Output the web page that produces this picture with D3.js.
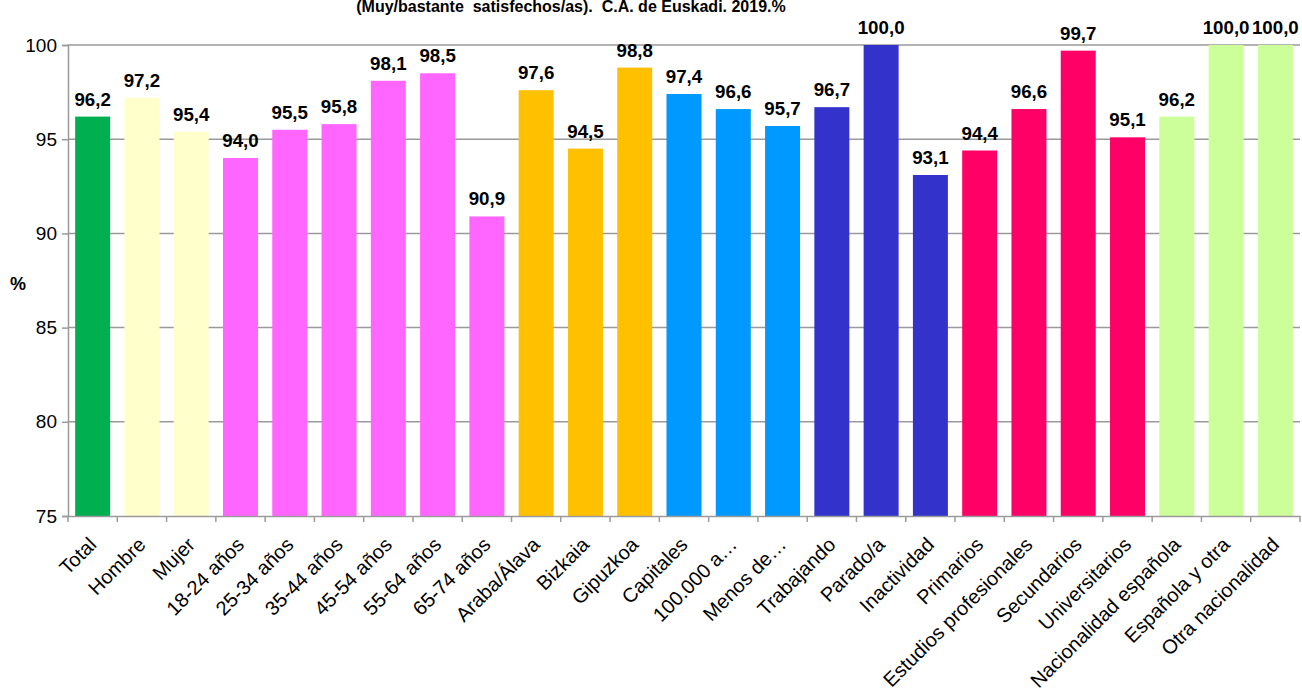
<!DOCTYPE html>
<html>
<head>
<meta charset="utf-8">
<script src="https://cdn.jsdelivr.net/npm/d3@7"></script>
<style>
  body { margin: 0; background: #fff; }
  svg { font-family: "Liberation Sans", Arial, sans-serif; }
</style>
</head>
<body>
<div id="chart"></div>
<script>
const categories = ["Total", "Hombre", "Mujer", "18-24 años", "25-34 años", "35-44 años", "45-54 años",
  "55-64 años", "65-74 años", "Araba/Álava", "Bizkaia", "Gipuzkoa", "Capitales", "100.000 a…",
  "Menos de…", "Trabajando", "Parado/a", "Inactividad", "Primarios", "Estudios profesionales",
  "Secundarios", "Universitarios", "Nacionalidad española", "Española y otra", "Otra nacionalidad"];
const values = [96.2, 97.2, 95.4, 94.0, 95.5, 95.8, 98.1, 98.5, 90.9, 97.6, 94.5, 98.8, 97.4, 96.6,
  95.7, 96.7, 100.0, 93.1, 94.4, 96.6, 99.7, 95.1, 96.2, 100.0, 100.0];
const groups = ["total", "sexo", "sexo", "edad", "edad", "edad", "edad", "edad", "edad",
  "territorio", "territorio", "territorio", "tamano", "tamano", "tamano",
  "actividad", "actividad", "actividad", "estudios", "estudios", "estudios", "estudios",
  "nacionalidad", "nacionalidad", "nacionalidad"];
const groupColors = {
  total: "#00B050", sexo: "#FFFFCC", edad: "#FF66FF", territorio: "#FFC000",
  tamano: "#0099FF", actividad: "#3333CC", estudios: "#FF0066", nacionalidad: "#CCFF99"
};
const yTicks = [75, 80, 85, 90, 95, 100];
const title = "(Muy/bastante  satisfechos/as).  C.A. de Euskadi. 2019.%";

const width = 1302, height = 693;
const margin = { top: 45, right: 2, bottom: 177, left: 68 };

const svg = d3.select("#chart").append("svg")
  .attr("width", width)
  .attr("height", height);

const x = d3.scaleBand()
  .domain(categories)
  .range([margin.left, width - margin.right])
  .paddingInner(0.29)
  .paddingOuter(0.145);

const y = d3.scaleLinear()
  .domain([75, 100])
  .range([height - margin.bottom, margin.top]);

// gridlines
svg.append("g")
  .selectAll("line")
  .data(yTicks.filter(d => d > 75))
  .join("line")
  .attr("x1", margin.left)
  .attr("x2", width - margin.right)
  .attr("y1", d => y(d))
  .attr("y2", d => y(d))
  .attr("stroke", "#9a9a9a")
  .attr("stroke-width", 1.5);

// bars
svg.append("g")
  .selectAll("rect")
  .data(categories)
  .join("rect")
  .attr("x", d => x(d))
  .attr("y", (d, i) => y(values[i]))
  .attr("width", x.bandwidth())
  .attr("height", (d, i) => y(75) - y(values[i]))
  .attr("fill", (d, i) => groupColors[groups[i]]);

// y axis
const yAxis = svg.append("g")
  .attr("transform", `translate(${margin.left},0)`)
  .call(d3.axisLeft(y).tickValues(yTicks).tickSize(6).tickPadding(5));
yAxis.select(".domain").attr("stroke", "#9a9a9a").attr("stroke-width", 1.5);
yAxis.selectAll(".tick line").attr("stroke", "#9a9a9a").attr("stroke-width", 1.5);
yAxis.selectAll(".tick text")
  .attr("font-size", 19)
  .attr("fill", "#000")
  .attr("font-family", "Liberation Sans, Arial, sans-serif");

// x axis
const xAxis = svg.append("g")
  .attr("transform", `translate(0,${y(75)})`)
  .call(d3.axisBottom(x).tickSize(0).tickFormat(""));
xAxis.select(".domain").attr("stroke", "#9a9a9a").attr("stroke-width", 1.5);

// category boundary ticks
const step = x.step();
svg.append("g")
  .selectAll("line")
  .data(d3.range(categories.length + 1))
  .join("line")
  .attr("x1", i => margin.left + i * step)
  .attr("x2", i => margin.left + i * step)
  .attr("y1", y(75))
  .attr("y2", y(75) + 6)
  .attr("stroke", "#9a9a9a")
  .attr("stroke-width", 1.5);

// category labels
svg.append("g")
  .selectAll("text")
  .data(categories)
  .join("text")
  .attr("transform", d => `translate(${x(d) + x.bandwidth() / 2},${y(75) + 25}) rotate(-45)`)
  .attr("text-anchor", "end")
  .attr("dy", "0.35em")
  .attr("font-size", 20)
  .text(d => d);

// value labels (slightly wide, as in the source)
svg.append("g")
  .selectAll("text")
  .data(categories)
  .join("text")
  .attr("transform", (d, i) => `translate(${x(d) + x.bandwidth() / 2},${y(values[i]) - 11}) scale(1.04,1)`)
  .attr("text-anchor", "middle")
  .attr("font-size", 18)
  .attr("font-weight", "bold")
  .text((d, i) => d3.format(".1f")(values[i]).replace(".", ","));

// y label
svg.append("text")
  .attr("x", 18)
  .attr("y", 290)
  .attr("text-anchor", "middle")
  .attr("font-size", 18)
  .attr("font-weight", "bold")
  .text("%");

// title (second line only visible)
svg.append("text")
  .attr("x", 571)
  .attr("y", 12)
  .attr("text-anchor", "middle")
  .attr("font-size", 16)
  .attr("font-weight", "bold")
  .style("white-space", "pre")
  .text(title);
</script>
</body>
</html>
